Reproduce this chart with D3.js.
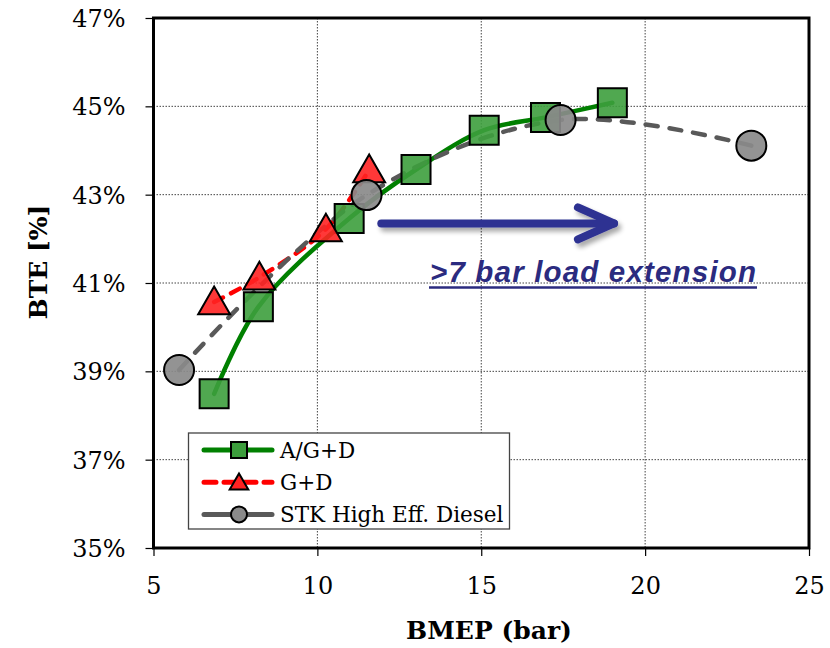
<!DOCTYPE html>
<html><head><meta charset="utf-8">
<script src="https://cdn.jsdelivr.net/npm/d3@7/dist/d3.min.js"></script>
<style>body{margin:0;background:#fff}svg{display:block}</style>
</head><body>
<svg id="c" width="830" height="648"></svg>
<script>
// ---- data ----
const agdX = [6.85, 8.2, 10.97, 13.01, 15.09, 16.96, 19.0];
const agdY = [38.49, 40.46, 42.46, 43.57, 44.46, 44.75, 45.08];
const gdX = [6.85, 8.23, 10.26, 11.58];
const gdY = [40.57, 41.13, 42.22, 43.56];
const stkX = [5.78, 11.5, 17.42, 23.24];
const stkY = [39.03, 42.99, 44.69, 44.11];
const seriesNames = ["A/G+D", "G+D", "STK High Eff. Diesel"];
const xTicks = [5, 10, 15, 20, 25];
const yTicks = [35, 37, 39, 41, 43, 45, 47];
const annotation = ">7 bar load extension";
const xTitle = "BMEP (bar)";
const yTitle = "BTE [%]";

const svg = d3.select("#c");
const L = 153.5, R = 809, T = 18, B = 548;
const x = d3.scaleLinear().domain([5, 25]).range([L, R]);
const y = d3.scaleLinear().domain([35, 47]).range([B, T]);

const serif = "'DejaVu Serif', serif";

// defs
const defs = svg.append("defs");
const f = defs.append("filter").attr("id", "sh").attr("x", "-20%").attr("y", "-50%").attr("width", "140%").attr("height", "200%");
f.append("feGaussianBlur").attr("in", "SourceAlpha").attr("stdDeviation", 2.5);
f.append("feOffset").attr("dx", 3).attr("dy", 4).attr("result", "b");
f.append("feComponentTransfer").append("feFuncA").attr("type", "linear").attr("slope", 0.35);
const m = f.append("feMerge"); m.append("feMergeNode"); m.append("feMergeNode").attr("in", "SourceGraphic");

// gridlines
const grid = svg.append("g");
grid.selectAll(".gx").data(xTicks.slice(1, -1)).join("line")
  .attr("x1", d => x(d)).attr("x2", d => x(d)).attr("y1", T).attr("y2", B)
  .attr("stroke", "#444").attr("stroke-width", 1).attr("stroke-dasharray", "1.5,1.5");
grid.selectAll(".gy").data(yTicks.slice(1, -1)).join("line")
  .attr("y1", d => y(d)).attr("y2", d => y(d)).attr("x1", L).attr("x2", R)
  .attr("stroke", "#444").attr("stroke-width", 1).attr("stroke-dasharray", "1.5,1.5");

// axes
const xAxis = d3.axisBottom(x).tickValues(xTicks).tickSize(8).tickPadding(21).tickFormat(d3.format("d"));
const yAxis = d3.axisLeft(y).tickValues(yTicks).tickSize(8).tickPadding(20).tickFormat(d => d + "%");
const gx = svg.append("g").attr("transform", `translate(0,${B})`).call(xAxis);
const gy = svg.append("g").attr("transform", `translate(${L},0)`).call(yAxis);
[gx, gy].forEach(g => {
  g.select(".domain").remove();
  g.selectAll(".tick line").attr("stroke", "#000").attr("stroke-width", 1.2);
  g.selectAll(".tick text").attr("font-family", serif).attr("font-size", 24).attr("fill", "#000");
});
gy.selectAll(".tick text").attr("dy", "0.36em");

// frame
svg.append("rect").attr("x", L).attr("y", T).attr("width", R - L).attr("height", B - T)
  .attr("fill", "none").attr("stroke", "#000").attr("stroke-width", 3);

// lines
const curve = d3.curveCatmullRom.alpha(0.5);
const line = d3.line().x(d => x(d[0])).y(d => y(d[1])).curve(curve);
const agd = agdX.map((v, i) => [v, agdY[i]]);
const gd = gdX.map((v, i) => [v, gdY[i]]);
const stk = stkX.map((v, i) => [v, stkY[i]]);

svg.append("path").attr("d", line(agd)).attr("fill", "none").attr("stroke", "#008000").attr("stroke-width", 4.5).attr("stroke-linecap", "round");
svg.append("path").attr("d", line(gd)).attr("fill", "none").attr("stroke", "#ff0000").attr("stroke-width", 4.5).attr("stroke-linecap", "round").attr("stroke-dasharray", "10,9");
svg.append("path").attr("d", line(stk)).attr("fill", "none").attr("stroke", "#595959").attr("stroke-width", 4.5).attr("stroke-linecap", "round").attr("stroke-dasharray", "12,12");

const sq = d3.symbol().type(d3.symbolSquare).size(29 * 29);
const tri = d3.symbol().type(d3.symbolTriangle).size(440);
const sqFill = "#3d9e3d", triFill = "#ff2222", cirFill = "#8a8a8a";

svg.append("g").selectAll("path").data(agd).join("path")
  .attr("transform", d => `translate(${x(d[0])},${y(d[1])})`).attr("d", sq)
  .attr("fill", sqFill).attr("fill-opacity", 0.9).attr("stroke", "#000").attr("stroke-width", 2);
svg.append("g").selectAll("path").data(gd).join("path")
  .attr("transform", d => `translate(${x(d[0])},${y(d[1]) + 3})`).attr("d", tri)
  .attr("fill", triFill).attr("fill-opacity", 0.9).attr("stroke", "#000").attr("stroke-width", 2);
svg.append("g").selectAll("circle").data(stk).join("circle")
  .attr("cx", d => x(d[0])).attr("cy", d => y(d[1])).attr("r", 15)
  .attr("fill", cirFill).attr("fill-opacity", 0.92).attr("stroke", "#000").attr("stroke-width", 2);

// arrow annotation
const navy = "#2e3192";
const ag = svg.append("g").attr("filter", "url(#sh)");
const ay = y(42.35);
ag.append("line").attr("x1", x(11.95)).attr("x2", x(19.05)).attr("y1", ay).attr("y2", ay)
  .attr("stroke", navy).attr("stroke-width", 8).attr("stroke-linecap", "round");
ag.append("path").attr("d", `M${x(17.95)},${ay - 16} L${x(19.05)},${ay} L${x(17.95)},${ay + 16}`)
  .attr("fill", "none").attr("stroke", navy).attr("stroke-width", 8).attr("stroke-linecap", "round").attr("stroke-linejoin", "round");

svg.append("text").attr("x", 430).attr("y", 281.5).text(annotation)
  .attr("font-family", "'Liberation Sans', Arial, sans-serif").attr("font-weight", "bold").attr("font-style", "italic")
  .attr("font-size", 29.5).attr("fill", "#2b2b7f")
  .attr("textLength", 326).attr("lengthAdjust", "spacing");
svg.append("line").attr("x1", 429).attr("x2", 757).attr("y1", 287.5).attr("y2", 287.5)
  .attr("stroke", "#2b2b7f").attr("stroke-width", 2.6);

// legend
const lg = svg.append("g");
lg.append("rect").attr("x", 188.5).attr("y", 433).attr("width", 321).attr("height", 96)
  .attr("fill", "#fff").attr("stroke", "#444").attr("stroke-width", 1.3);
const rows = [
  {c: "#008000", dash: null, shape: "sq"},
  {c: "#ff0000", dash: "12,8", shape: "tri"},
  {c: "#595959", dash: null, shape: "cir"}
];
rows.forEach((r, i) => {
  const yy = 450 + i * 32.2;
  const ln = lg.append("line").attr("x1", 204).attr("x2", 272).attr("y1", yy).attr("y2", yy)
    .attr("stroke", r.c).attr("stroke-width", 5).attr("stroke-linecap", "round");
  if (r.dash) ln.attr("stroke-dasharray", r.dash);
  if (r.shape === "sq") lg.append("path").attr("transform", `translate(239,${yy})`).attr("d", d3.symbol().type(d3.symbolSquare).size(256)).attr("fill", sqFill).attr("stroke", "#000").attr("stroke-width", 2);
  if (r.shape === "tri") lg.append("path").attr("transform", `translate(239,${yy + 2})`).attr("d", d3.symbol().type(d3.symbolTriangle).size(150)).attr("fill", triFill).attr("stroke", "#000").attr("stroke-width", 2);
  if (r.shape === "cir") lg.append("circle").attr("cx", 239).attr("cy", yy).attr("r", 8).attr("fill", cirFill).attr("stroke", "#000").attr("stroke-width", 2);
  lg.append("text").attr("x", 280).attr("y", yy).attr("dy", "0.36em").text(seriesNames[i])
    .attr("font-family", serif).attr("font-size", 21.5).attr("fill", "#000");
});

// axis titles
svg.append("text").attr("x", 489).attr("y", 639).attr("text-anchor", "middle").text(xTitle)
  .attr("font-family", serif).attr("font-weight", "bold").attr("font-size", 25).attr("fill", "#000");
svg.append("text").attr("transform", `translate(47,262) rotate(-90)`).attr("text-anchor", "middle").text(yTitle)
  .attr("font-family", serif).attr("font-weight", "bold").attr("font-size", 25).attr("fill", "#000");
</script>
</body></html>
